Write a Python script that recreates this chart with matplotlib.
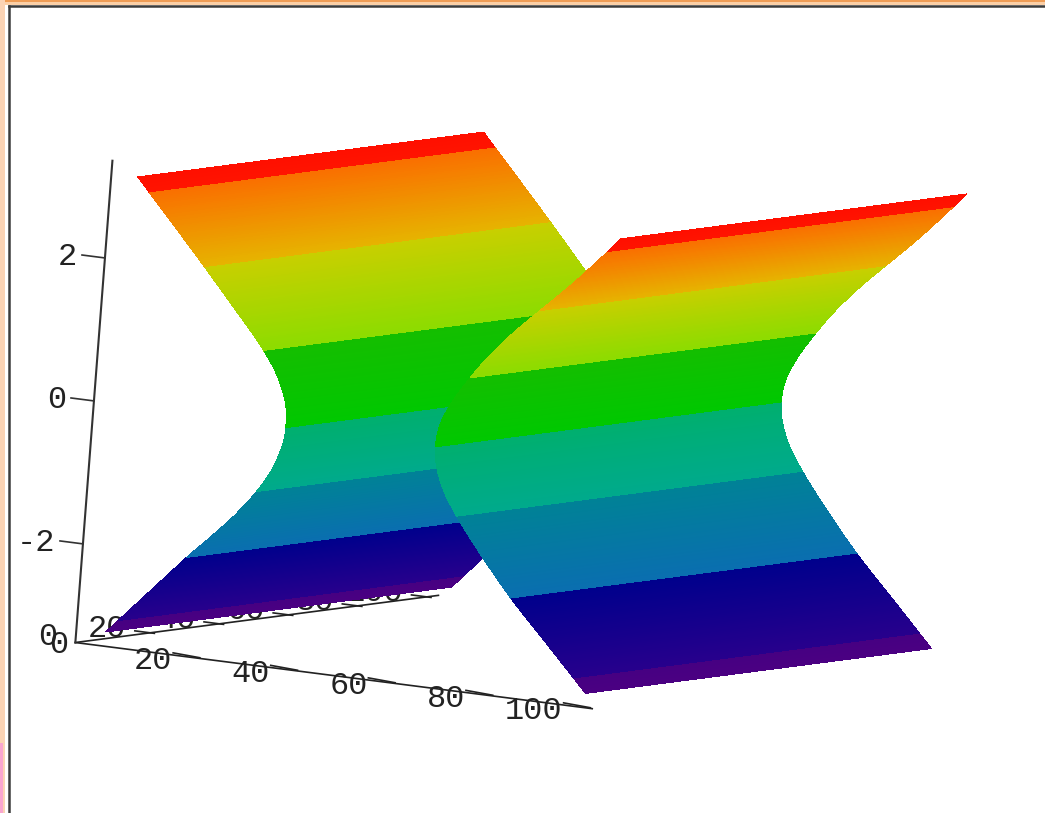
import numpy as np
import matplotlib
matplotlib.use("Agg")
import matplotlib.pyplot as plt
from matplotlib.colors import LinearSegmentedColormap
from matplotlib.patches import Rectangle
from matplotlib.lines import Line2D

# outline of the two sheets
z_right = [3.18, 2.70, 2.24, 1.90, 1.55, 1.16, 0.85, 0.51, 0.16, -0.06, -0.48, -0.79, -1.22, -1.59, -2.01, -2.50, -3.18]
x_right = [104.4, 98.4, 92.1, 86.9, 82.1, 77.5, 74.7, 71.5, 69.9, 69.7, 71.0, 73.6, 78.2, 82.6, 87.7, 94.8, 104.3]
z_left = [3.18, 2.12, 1.37, 1.02, 0.52, 0.07, -0.41, -0.91, -1.59, -1.75, -3.18]
x_left = [5.4, 19.5, 29.1, 33.7, 38.3, 39.7, 38.8, 35.3, 27.4, 24.5, 6.0]
y_ends = [0, 100]

# colour bands over z: (z, colour), a repeated z is a hard step
band_z = [-3.2, -3.0, -3.0, -2.0, -2.0, -0.95, -0.95, -0.02, -0.02, 1.0, 1.0, 2.05, 2.05, 3.0, 3.0, 3.2]
band_colours = ["#4b0082", "#460082", "#28008c", "#00008c", "#0a6eb0", "#008296", "#00aa8c", "#00af6e",
                "#00c800", "#14be00", "#8cdc00", "#c8cf00", "#e6b400", "#fa6e00", "#ff1400", "#ff0f00"]

x_ticks = [20, 40, 60, 80, 100]
y_ticks = [20, 40, 60, 80, 100]
z_ticks = [-2, 0, 2]
x_lim = (0, 105.9)
y_lim = (0, 105)
z_lim = (-3.38, 3.36)

W, H = 1045, 813
SIDE = 1100  # square axes larger than the figure so nothing gets clipped
fig = plt.figure(figsize=(W / 100, H / 100), dpi=100, facecolor="white")
ax = fig.add_axes([(519 - SIDE / 2) / W, (387 - SIDE / 2) / H, SIDE / W, SIDE / H],
                  projection="3d", proj_type="ortho", computed_zorder=False)
ax.set_xlim(*x_lim)
ax.set_ylim(*y_lim)
ax.set_zlim(*z_lim)
ax.view_init(elev=5.9, azim=-63.8, roll=-4.4)
ax.set_box_aspect((1.194, 1.671, 1.0), zoom=1.325 * 813 / SIDE)
ax.set_axis_off()

span = band_z[-1] - band_z[0]
cmap = LinearSegmentedColormap.from_list(
    "bands", [((v - band_z[0]) / span, c) for v, c in zip(band_z, band_colours)], N=1024)


def sheet(zs, xs, order):
    # finer rows so the colour runs smoothly down the sheet
    z_fine = np.linspace(zs[0], zs[-1], 320)
    x_fine = np.interp(z_fine, zs[::-1], xs[::-1])
    # take the corners off the read outline
    k = 15
    padded = np.concatenate([2 * x_fine[0] - x_fine[k:0:-1], x_fine, 2 * x_fine[-1] - x_fine[-2:-k - 2:-1]])
    x_fine = np.convolve(padded, np.ones(2 * k + 1) / (2 * k + 1), mode="valid")
    X = np.column_stack([x_fine, x_fine])
    Y = np.column_stack([np.full_like(z_fine, y_ends[0]), np.full_like(z_fine, y_ends[1])])
    Z = np.column_stack([z_fine, z_fine])
    ax.plot_surface(X, Y, Z, facecolors=cmap((Z - band_z[0]) / span), rstride=1, cstride=1,
                    shade=False, linewidth=0, antialiased=False, zorder=order)


# axis lines and labels sit under the surface
ax.plot([0, x_lim[1]], [0, 0], [z_lim[0]] * 2, color="#222222", lw=1.2, zorder=1)
ax.plot([0, 0], [0, y_lim[1]], [z_lim[0]] * 2, color="#222222", lw=1.2, zorder=1)
ax.plot([0, 0], [0, 0], z_lim, color="#333333", lw=1.5, zorder=1)

font = dict(family="Liberation Mono", fontsize=23, color="#222222", zorder=2)
for v in x_ticks:
    ax.plot([v, v + 5.5], [0, 0], [z_lim[0] + 0.03, z_lim[0] + 0.01], color="#222222", lw=1.2, zorder=1)
    ax.text(v, 0, z_lim[0] - 0.09, str(v), ha="right", va="center", **font)
for v in y_ticks:
    ax.plot([-2, 2], [v, v], [z_lim[0] + 0.02] * 2, color="#222222", lw=1.2, zorder=1)
    ax.text(-3.7, v, z_lim[0] + 0.03, str(v), ha="right", va="center", **font)
for v in z_ticks:
    ax.plot([-4.7, 0], [0, 0], [v, v], color="#333333", lw=1.2, zorder=1)
    ax.text(-5.6, 0, v - 0.04, str(v), ha="right", va="center", **font)
ax.text(-1.3, 0, z_lim[0] - 0.05, "0", ha="right", va="center", **font)
ax.text(-3.8, 0, z_lim[0] + 0.05, "0", ha="right", va="center", **font)

sheet(z_left, x_left, 3)
sheet(z_right, x_right, 4)

# window frame around the captured plot
fig.add_artist(Rectangle((0, 1 - 5 / H), 1, 5 / H, transform=fig.transFigure, color="#fbcfa6", lw=0))
fig.add_artist(Rectangle((0, 1 - 2 / H), 1, 2 / H, transform=fig.transFigure, color="#ef9c55", lw=0))
fig.add_artist(Rectangle((0, 0), 5 / W, 1, transform=fig.transFigure, color="#fbd3b4", lw=0))
fig.add_artist(Rectangle((0, 0), 3 / W, 70 / H, transform=fig.transFigure, color="#f9a6d0", lw=0))
fig.add_artist(Line2D([8.5 / W, 8.5 / W], [0, 1 - 6 / H], transform=fig.transFigure, color="#3c3c3c", lw=1.8))
fig.add_artist(Line2D([8.5 / W, 1], [1 - 6 / H, 1 - 6 / H], transform=fig.transFigure, color="#3c3c3c", lw=1.8))

fig.savefig("out.png", dpi=100)
